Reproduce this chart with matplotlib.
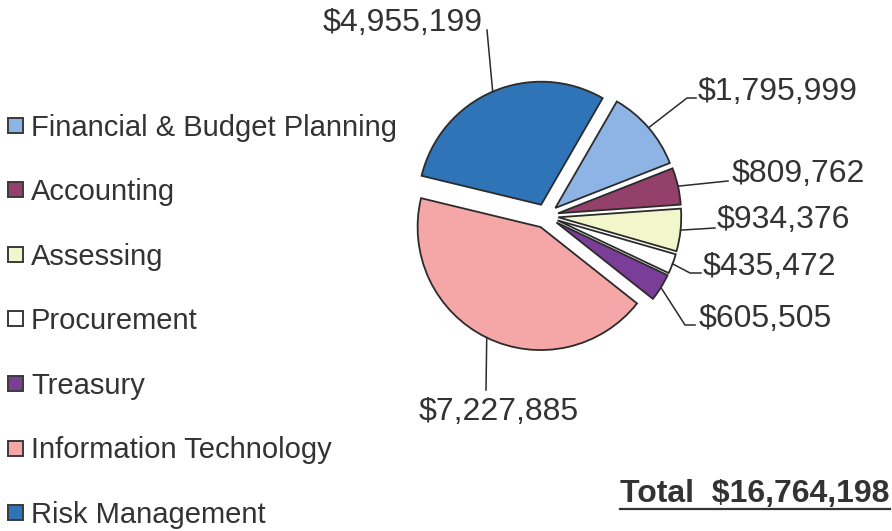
import matplotlib.pyplot as plt
from matplotlib.patches import Rectangle
import numpy as np

plt.rcParams['font.family'] = ['Liberation Sans', 'DejaVu Sans']

W, H = 892, 531

departments = ['Financial & Budget Planning', 'Accounting', 'Assessing', 'Procurement',
               'Treasury', 'Information Technology', 'Risk Management']
budgets = [1795999, 809762, 934376, 435472, 605505, 7227885, 4955199]
colors = ['#8db4e4', '#93406a', '#f2f7cb', '#ffffff', '#7a3e98', '#f5a7a8', '#2f74b7']
total_text = 'Total  $16,764,198'

# value label anchor (x, baseline y, alignment) and the leader bends after the wedge edge
label_pos = [(698, 100, 'left'), (732, 182, 'left'), (717, 228, 'left'), (703, 275, 'left'),
             (699, 327, 'left'), (499, 420, 'center'), (483, 31, 'right')]
leader_pts = [[(687, 98), (696, 98)], [(728, 181)], [(715, 228)], [(690, 273), (701, 273)],
              [(685, 325), (695, 325)], [(486, 390)], [(487, 30)]]

txt_col = '#333333'
edge_col = '#2b2b2b'

fig = plt.figure(figsize=(W / 100, H / 100), dpi=100)
ax = fig.add_axes([0, 0, 1, 1])

R = 123
wedges, _ = ax.pie(budgets, colors=colors, startangle=60, counterclock=False,
                   explode=[0.1 * R] * len(budgets), center=(546, H - 216), radius=R,
                   wedgeprops=dict(edgecolor=edge_col, linewidth=1.3))
ax.set_xlim(0, W)
ax.set_ylim(0, H)
ax.set_aspect('equal')
ax.axis('off')

# leader lines start on the arc at each wedge's middle angle
for w, val, (lx, ly, ha), pts in zip(wedges, budgets, label_pos, leader_pts):
    th = np.deg2rad((w.theta1 + w.theta2) / 2)
    cx, cy = w.center
    xs = [cx + w.r * np.cos(th)] + [p[0] for p in pts]
    ys = [cy + w.r * np.sin(th)] + [H - p[1] for p in pts]
    ax.plot(xs, ys, color=edge_col, linewidth=1.1)
    ax.text(lx, H - ly, '${:,}'.format(val), fontsize=23, color=txt_col,
            ha=ha, va='baseline')

# legend down the left side
for i, (name, c) in enumerate(zip(departments, colors)):
    yc = 125 + 64.6 * i
    ax.add_patch(Rectangle((8, H - yc - 7.5), 15, 15, facecolor=c,
                           edgecolor='#3a3a3a', linewidth=1.4))
    ax.text(31, H - yc - 10.5, name, fontsize=21, color=txt_col, va='baseline')

t = ax.text(620, H - 502, total_text, fontsize=23, fontweight='bold',
            color=txt_col, va='baseline')
fig.canvas.draw()
bb = t.get_window_extent()
ax.plot([bb.x0, bb.x1], [H - 509, H - 509], color=txt_col, linewidth=1.6)

fig.savefig('out.png', dpi=100)
